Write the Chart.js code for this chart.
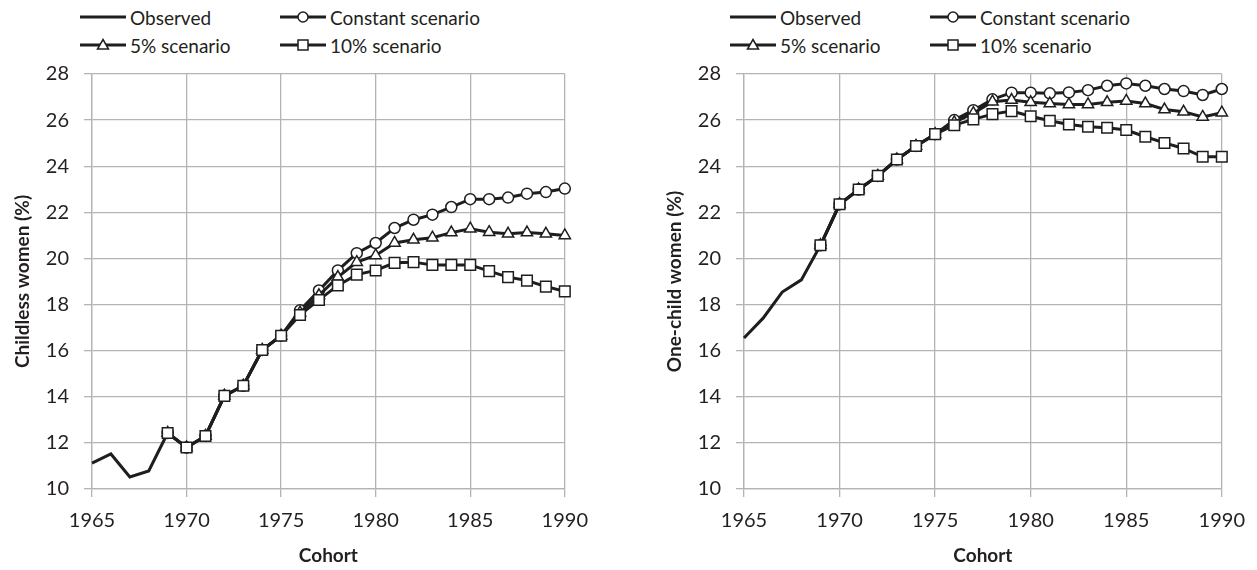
<!DOCTYPE html>
<html>
<head>
<meta charset="utf-8">
<script src="https://cdn.jsdelivr.net/npm/chart.js@4.4.1/dist/chart.umd.min.js"></script>
<style>
  body { margin: 0; background: #fff; width: 1257px; height: 570px; overflow: hidden; position: relative; font-family: Lato, sans-serif; color: #231f20; }
  canvas { position: absolute; top: 0; }
  .legend { position: absolute; top: 6px; display: grid; grid-template-columns: 200px 200px; row-gap: 6px; font-size: 19px; }
  .item { display: flex; align-items: center; height: 22px; white-space: nowrap; }
  .item svg { margin-right: 4px; }
</style>
</head>
<body>
<div class="legend" id="legendLeft" style="left:80px"></div>
<div class="legend" id="legendRight" style="left:730px"></div>
<canvas id="childless" width="600" height="570" style="left:0"></canvas>
<canvas id="onechild" width="605" height="570" style="left:652px"></canvas>
<script>
// cohorts
const obsYears = [1965, 1966, 1967, 1968, 1969];
const scenYears = [1969, 1970, 1971, 1972, 1973, 1974, 1975, 1976, 1977, 1978, 1979,
  1980, 1981, 1982, 1983, 1984, 1985, 1986, 1987, 1988, 1989, 1990];
const xTicks = [1965, 1970, 1975, 1980, 1985, 1990];
const yTicks = [10, 12, 14, 16, 18, 20, 22, 24, 26, 28];

const seriesNames = ["Observed", "Constant scenario", "5% scenario", "10% scenario"];

// childless women (%)
const childObserved = [11.12, 11.52, 10.52, 10.78, 12.43];
const childConstant = [12.43, 11.80, 12.30, 14.04, 14.48, 16.03, 16.65, 17.75, 18.61, 19.48, 20.23,
  20.67, 21.32, 21.68, 21.90, 22.23, 22.57, 22.57, 22.64, 22.81, 22.88, 23.03];
const child5 = [12.43, 11.80, 12.30, 14.04, 14.48, 16.03, 16.65, 17.65, 18.40, 19.19, 19.84,
  20.13, 20.67, 20.81, 20.90, 21.12, 21.29, 21.14, 21.07, 21.12, 21.07, 21.00];
const child10 = [12.43, 11.80, 12.30, 14.04, 14.48, 16.03, 16.65, 17.55, 18.20, 18.83, 19.30,
  19.48, 19.81, 19.84, 19.72, 19.72, 19.72, 19.45, 19.19, 19.04, 18.78, 18.57];

// one-child women (%)
const oneObserved = [16.55, 17.41, 18.54, 19.07, 20.57];
const oneConstant = [20.57, 22.35, 22.99, 23.58, 24.29, 24.88, 25.39, 26.00, 26.43, 26.90, 27.19,
  27.19, 27.16, 27.20, 27.30, 27.49, 27.59, 27.49, 27.35, 27.26, 27.09, 27.35];
const one5 = [20.57, 22.35, 22.99, 23.58, 24.29, 24.88, 25.39, 25.90, 26.30, 26.80, 26.87,
  26.77, 26.72, 26.68, 26.68, 26.77, 26.83, 26.72, 26.46, 26.36, 26.14, 26.32];
const one10 = [20.57, 22.35, 22.99, 23.58, 24.29, 24.88, 25.39, 25.78, 26.03, 26.26, 26.39,
  26.17, 25.97, 25.81, 25.71, 25.67, 25.57, 25.28, 25.01, 24.77, 24.41, 24.41];

const ink = "#1e1e1e";
const textColor = "#231f20";
const gridColor = "#b4b4b4";
const markers = [null, "circle", "triangle", "rect"];

function pts(years, vals) {
  return years.map((x, i) => ({ x: x, y: vals[i] }));
}

function lineSet(label, data, style, order) {
  return {
    label: label,
    data: data,
    borderColor: ink,
    borderWidth: 3,
    tension: 0,
    clip: false,
    pointStyle: style || "circle",
    pointRadius: style === "rect" ? 7.5 : style === "triangle" ? 6.5 : style ? 5.5 : 0,
    pointBorderWidth: 1.5,
    pointBackgroundColor: "#fff",
    pointBorderColor: ink,
    order: order
  };
}

function makeChart(id, yTitle, obs, cst, p5, p10) {
  new Chart(document.getElementById(id), {
    type: "line",
    data: {
      datasets: [
        lineSet(seriesNames[3], pts(scenYears, p10), "rect", 0),
        lineSet(seriesNames[2], pts(scenYears, p5), "triangle", 1),
        lineSet(seriesNames[1], pts(scenYears, cst), "circle", 2),
        lineSet(seriesNames[0], pts(obsYears, obs), null, 3)
      ]
    },
    options: {
      responsive: false,
      animation: false,
      layout: { padding: { top: 74, right: id === "childless" ? 33 : 34, bottom: 0, left: 0 } },
      plugins: { legend: { display: false }, tooltip: { enabled: false } },
      scales: {
        x: {
          type: "linear",
          min: xTicks[0],
          max: xTicks[xTicks.length - 1],
          afterBuildTicks: s => { s.ticks = xTicks.map(v => ({ value: v })); },
          ticks: { padding: 12, color: textColor, font: { family: "Lato", size: 20 }, callback: v => String(v), maxRotation: 0 },
          grid: { color: gridColor, lineWidth: 1.3, tickLength: 8 },
          border: { color: gridColor, width: 1.3 },
          title: { display: true, text: "Cohort", color: textColor, font: { family: "Lato", size: 19, weight: "bold" }, padding: { top: 0, bottom: 3 } },
          afterFit: s => { s.height = 81; }
        },
        y: {
          min: yTicks[0],
          max: yTicks[yTicks.length - 1],
          afterBuildTicks: s => { s.ticks = yTicks.map(v => ({ value: v })); },
          ticks: { padding: 15, color: textColor, font: { family: "Lato", size: 20 } },
          grid: { color: gridColor, lineWidth: 1.3, tickLength: 8 },
          border: { color: gridColor, width: 1.3 },
          title: { display: true, text: yTitle, color: textColor, font: { family: "Lato", size: 19, weight: "bold" }, padding: { top: 11, bottom: 0 } },
          afterFit: s => { s.width = 92; }
        }
      }
    }
  });
}

function markerSvg(style) {
  let m = "";
  if (style === "circle") m = '<circle cx="23" cy="10" r="5" fill="#fff" stroke="' + ink + '" stroke-width="1.5"/>';
  if (style === "triangle") m = '<polygon points="23,4.5 28.5,14 17.5,14" fill="#fff" stroke="' + ink + '" stroke-width="1.5"/>';
  if (style === "rect") m = '<rect x="18" y="5" width="10" height="10" fill="#fff" stroke="' + ink + '" stroke-width="1.5"/>';
  return '<svg width="46" height="20"><line x1="0" y1="10" x2="46" y2="10" stroke="' + ink + '" stroke-width="3"/>' + m + '</svg>';
}

function buildLegend(id) {
  const box = document.getElementById(id);
  box.innerHTML = seriesNames.map((name, i) =>
    '<div class="item">' + markerSvg(markers[i]) + '<span>' + name + '</span></div>').join("");
}

buildLegend("legendLeft");
buildLegend("legendRight");
makeChart("childless", "Childless women (%)", childObserved, childConstant, child5, child10);
makeChart("onechild", "One-child women (%)", oneObserved, oneConstant, one5, one10);
</script>
</body>
</html>
